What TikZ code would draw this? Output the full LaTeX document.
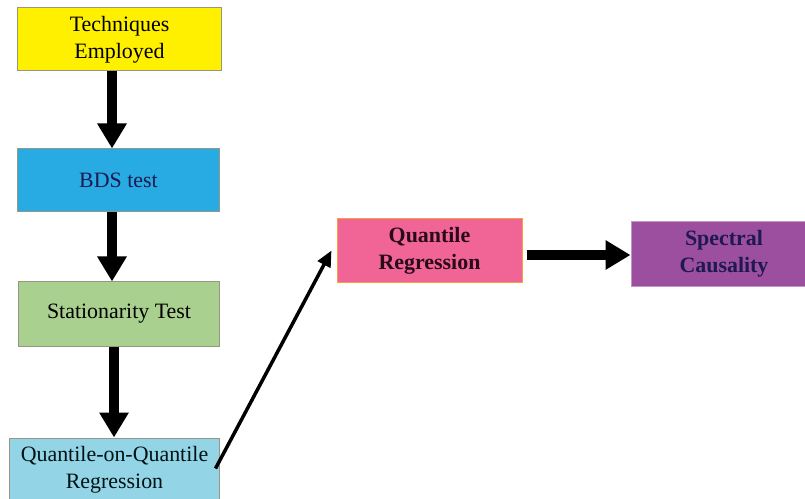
\documentclass[tikz,border=0pt]{standalone}
\usepackage{fontspec}
\setmainfont{Liberation Serif}
\usetikzlibrary{arrows.meta}
\definecolor{cyel}{RGB}{255,240,0}
\definecolor{cblue}{RGB}{40,170,226}
\definecolor{cgreen}{RGB}{169,208,142}
\definecolor{clblue}{RGB}{147,212,230}
\definecolor{cpink}{RGB}{240,101,149}
\definecolor{cpurple}{RGB}{155,79,158}
\definecolor{cborder}{RGB}{150,150,130}
\definecolor{corange}{RGB}{245,160,64}
\definecolor{clpurple}{RGB}{190,150,200}
\definecolor{ctextnavy}{RGB}{30,25,80}
\definecolor{ctextdark}{RGB}{40,10,25}
\tikzset{
  box/.style={draw=cborder, line width=1bp, minimum width=#1, inner sep=0pt,
    align=center, font=\rmfamily\fontsize{22}{27}\selectfont, text=black},
  bigarrow/.style={line width=10bp, -{Triangle[width=28bp,length=25bp]}},
  thinarrow/.style={line width=3.5bp, -{Triangle[width=14bp,length=16bp]}},
}
\begin{document}
\begin{tikzpicture}[x=1bp,y=-1bp]
\useasboundingbox (0,0) rectangle (805,499);
\node[box=203bp, minimum height=63bp, fill=cyel] (tech) at (119.5,39.5) {Techniques\\Employed};
\node[box=201bp, minimum height=63bp, fill=cblue, text=ctextnavy] (bds) at (118.5,180.5) {BDS test};
\node[box=200bp, minimum height=64bp, fill=cgreen] (stat) at (119,314) {Stationarity Test};
\node[box=209bp, minimum height=63bp, fill=clblue, text=black!85!teal] (qoq) at (114.5,469.5) {Quantile-on-Quantile\\Regression};
\node[box=185bp, minimum height=63bp, fill=cpink, draw=corange, text=ctextdark, font=\rmfamily\fontsize{22}{27}\selectfont\bfseries] (qr) at (429.5,250.5) {Quantile\\Regression};
\node[box=186bp, minimum height=64bp, fill=cpurple, draw=clpurple, text=ctextnavy, font=\rmfamily\fontsize{22}{27}\selectfont\bfseries] (sc) at (724,254) {Spectral\\Causality};
\coordinate (a1) at ([xshift=-6.5bp]bds.north);
\draw[bigarrow] (a1 |- tech.south) -- (a1);
\draw[bigarrow] ([xshift=-6.5bp]bds.south) -- ([xshift=-6.5bp]bds.south |- stat.north);
\draw[bigarrow] ([xshift=-5bp]stat.south) -- ([xshift=-5bp]stat.south |- qoq.north);
\draw[thinarrow] ([xshift=-4bp,yshift=1bp]qoq.east) -- ([xshift=-5bp]qr.west);
\coordinate (hstart) at ([xshift=4bp,yshift=-4.5bp]qr.east);
\draw[bigarrow] (hstart) -- (hstart -| sc.west);
\end{tikzpicture}
\end{document}
